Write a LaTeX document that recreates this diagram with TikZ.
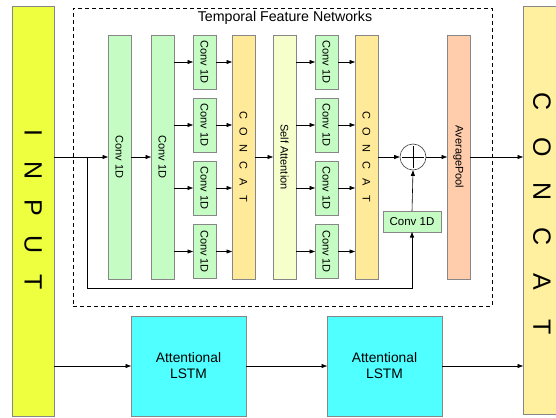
\documentclass[tikz,border=0pt]{standalone}
\usepackage{fontspec}
\setmainfont{Liberation Sans}
\usetikzlibrary{arrows.meta}
\definecolor{inyellow}{RGB}{238,255,64}
\definecolor{convgreen}{RGB}{196,252,196}
\definecolor{catyellow}{RGB}{255,234,153}
\definecolor{sapale}{RGB}{246,255,204}
\definecolor{apsalmon}{RGB}{255,204,172}
\definecolor{lstmcyan}{RGB}{80,255,255}
\definecolor{bigcat}{RGB}{255,240,160}
\definecolor{bordergray}{RGB}{135,135,135}
\newlength\lp
\newcommand\spc[1]{\makebox[\lp]{#1}}
\newcommand\fs[1]{\fontsize{#1}{#1}\selectfont}
\begin{document}
\begin{tikzpicture}[x=1pt,y=-1pt,
  box/.style={draw=bordergray,line width=0.6pt,inner sep=0pt,outer sep=0pt},
  tall/.style={box,minimum width=23pt,minimum height=244pt},
  small/.style={box,fill=convgreen,minimum width=23pt,minimum height=54pt},
  vlab/.style={label={[rotate=-90,font=\fs{11}]center:#1}},
  arr/.style={-{Triangle[length=5.5pt,width=4pt]},line width=0.6pt},
  ln/.style={line width=0.6pt}]
\useasboundingbox (0,0) rectangle (556,417);
% frames
\node[draw,dashed,dash pattern=on 4pt off 3pt,line width=0.6pt,minimum width=419pt,minimum height=298pt,inner sep=0pt] (tfn) at (282.5,157) {};
\node[font=\fs{14.2}] (title) at (285,18) {Temporal Feature Networks};
% input and output
\node[box,fill=inyellow,minimum width=42pt,minimum height=410pt] (input) at (33,211) {};
\node[rotate=-90,font=\fs{25}] (inputt) at (33,207.5) {\setlength\lp{37.25pt}\spc{I}\spc{N}\spc{P}\spc{U}\spc{T}};
\node[box,fill=bigcat,minimum width=40pt,minimum height=408pt] (bigcat) at (543,210) {};
\node[rotate=-90,font=\fs{25}] (bigcatt) at (542,214.5) {\setlength\lp{45pt}\spc{C}\spc{O}\spc{N}\spc{C}\spc{A}\spc{T}};
% first convs
\node[tall,fill=convgreen,vlab={Conv 1D}] (c1) at (119.5,157) {};
\node[tall,fill=convgreen,vlab={Conv 1D}] (c2) at (162.5,157) {};
\node[small,vlab={Conv 1D}] (a1) at (204.5,62) {};
\node[small,vlab={Conv 1D}] (a2) at (204.5,125) {};
\node[small,vlab={Conv 1D}] (a3) at (204.5,188) {};
\node[small,vlab={Conv 1D}] (a4) at (204.5,251.5) {};
\node[tall,fill=catyellow] (cat1) at (243.5,157) {};
\node[rotate=-90,font=\fs{11}] (cat1t) at (cat1) {\setlength\lp{16.8pt}\spc{C}\spc{O}\spc{N}\spc{C}\spc{A}\spc{T}};
\node[tall,fill=sapale,vlab={Self Attention}] (sa) at (284.5,157) {};
\node[small,vlab={Conv 1D}] (b1) at (326.5,62) {};
\node[small,vlab={Conv 1D}] (b2) at (326.5,125) {};
\node[small,vlab={Conv 1D}] (b3) at (326.5,188) {};
\node[small,vlab={Conv 1D}] (b4) at (326.5,251.5) {};
\node[tall,fill=catyellow] (cat2) at (366.5,157) {};
\node[rotate=-90,font=\fs{11}] (cat2t) at (cat2) {\setlength\lp{16.8pt}\spc{C}\spc{O}\spc{N}\spc{C}\spc{A}\spc{T}};
\node[circle,draw=black!75,line width=0.6pt,fill=white,minimum size=26pt,inner sep=0pt] (plus) at (413,157) {};
\draw[ln] ([yshift=-11pt]plus.center) -- ([yshift=11pt]plus.center);
\draw[ln] ([xshift=-11pt]plus.center) -- ([xshift=11pt]plus.center);
\node[box,fill=convgreen,minimum width=58pt,minimum height=21pt,font=\fs{11.5}] (conv) at (412,221.5) {Conv 1D};
\node[tall,fill=apsalmon,vlab={AveragePool}] (ap) at (458.5,157) {};
% LSTMs
\node[box,fill=lstmcyan,minimum width=115pt,minimum height=100pt,align=center,font=\fontsize{13.8}{16}\selectfont] (l1) at (188.5,366) {Attentional\\LSTM};
\node[box,fill=lstmcyan,minimum width=115pt,minimum height=100pt,align=center,font=\fontsize{13.8}{16}\selectfont] (l2) at (384.5,366) {Attentional\\LSTM};
% connectors
\coordinate (br) at (87,157);
\draw[arr] (input.east |- c1.west) -- (c1.west);
\draw[arr] (c1.east) -- (c2.west);
\foreach \s in {1,2,3,4}{
  \draw[arr] (c2.east |- a\s.west) -- (a\s.west);
  \draw[arr] (a\s.east) -- (cat1.west |- a\s.east);
  \draw[arr] (sa.east |- b\s.west) -- (b\s.west);
  \draw[arr] (b\s.east) -- (cat2.west |- b\s.east);
}
\draw[arr] (cat1.east) -- (sa.west);
\draw[arr] (cat2.east) -- (plus.west);
\draw[arr] (plus.east) -- (ap.west);
\draw[arr] (ap.east) -- (bigcat.west |- ap.east);
\draw[arr] (br) -- ++(0,131) -| (conv.south);
\draw[arr] (conv.north) -- (plus.south);
\draw[arr] (input.east |- l1.west) -- (l1.west);
\draw[arr] (l1.east) -- (l2.west);
\draw[arr] (l2.east) -- (bigcat.west |- l2.east);
\end{tikzpicture}
\end{document}
